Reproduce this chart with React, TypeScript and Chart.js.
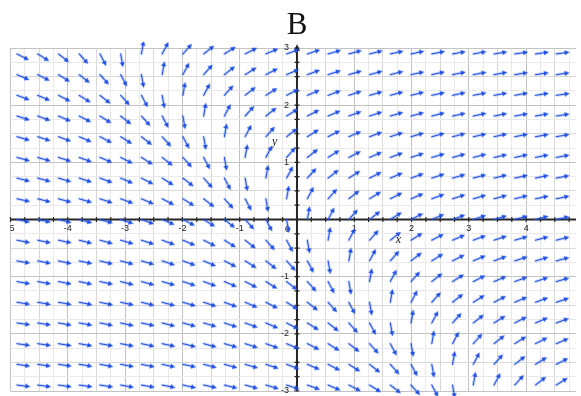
import { useEffect, useRef } from 'react';
import { Chart, registerables } from 'chart.js';

Chart.register(...registerables);

const TITLE = 'B';
const X_AXIS_LABEL = 'x';
const Y_AXIS_LABEL = 'y';

// arrow tail positions (grid of the direction field)
const COLUMNS_X = [
  -4.887, -4.525, -4.163, -3.801, -3.439, -3.077, -2.715, -2.353, -1.991, -1.629,
  -1.267, -0.905, -0.543, -0.181, 0.181, 0.543, 0.905, 1.267, 1.629, 1.991,
  2.353, 2.715, 3.077, 3.439, 3.801, 4.163, 4.525, 4.887,
];
const ROWS_Y = [
  2.896, 2.534, 2.172, 1.81, 1.448, 1.086, 0.724, 0.362, 0,
  -0.362, -0.724, -1.086, -1.448, -1.81, -2.172, -2.534, -2.896,
];

// arrow directions in degrees (counter-clockwise from +x), one row per ROWS_Y entry
const ANGLES: number[][] = [
  [-27, -32, -38, -48, -62, -80, 80, 62, 48, 38, 32, 27, 23, 20, 18, 16, 15, 14, 12, 12, 11, 10, 10, 9, 8, 8, 8, 7],
  [-23, -27, -32, -38, -48, -62, -80, 80, 62, 48, 38, 32, 27, 23, 20, 18, 16, 15, 14, 12, 12, 11, 10, 10, 9, 8, 8, 8],
  [-20, -23, -27, -32, -38, -48, -62, -80, 80, 62, 48, 38, 32, 27, 23, 20, 18, 16, 15, 14, 12, 12, 11, 10, 10, 9, 8, 8],
  [-18, -20, -23, -27, -32, -38, -48, -62, -80, 80, 62, 48, 38, 32, 27, 23, 20, 18, 16, 15, 14, 12, 12, 11, 10, 10, 9, 8],
  [-16, -18, -20, -23, -27, -32, -38, -48, -62, -80, 80, 62, 48, 38, 32, 27, 23, 20, 18, 16, 15, 14, 12, 12, 11, 10, 10, 9],
  [-15, -16, -18, -20, -23, -27, -32, -38, -48, -62, -80, 80, 62, 48, 38, 32, 27, 23, 20, 18, 16, 15, 14, 12, 12, 11, 10, 10],
  [-14, -15, -16, -18, -20, -23, -27, -32, -38, -48, -62, -80, 80, 62, 48, 38, 32, 27, 23, 20, 18, 16, 15, 14, 12, 12, 11, 10],
  [-12, -14, -15, -16, -18, -20, -23, -27, -32, -38, -48, -62, -80, 80, 62, 48, 38, 32, 27, 23, 20, 18, 16, 15, 14, 12, 12, 11],
  [-12, -12, -14, -15, -16, -18, -20, -23, -27, -32, -38, -48, -62, -80, 80, 62, 48, 38, 32, 27, 23, 20, 18, 16, 15, 14, 12, 12],
  [-11, -12, -12, -14, -15, -16, -18, -20, -23, -27, -32, -38, -48, -62, -80, 80, 62, 48, 38, 32, 27, 23, 20, 18, 16, 15, 14, 12],
  [-10, -11, -12, -12, -14, -15, -16, -18, -20, -23, -27, -32, -38, -48, -62, -80, 80, 62, 48, 38, 32, 27, 23, 20, 18, 16, 15, 14],
  [-10, -10, -11, -12, -12, -14, -15, -16, -18, -20, -23, -27, -32, -38, -48, -62, -80, 80, 62, 48, 38, 32, 27, 23, 20, 18, 16, 15],
  [-9, -10, -10, -11, -12, -12, -14, -15, -16, -18, -20, -23, -27, -32, -38, -48, -62, -80, 80, 62, 48, 38, 32, 27, 23, 20, 18, 16],
  [-8, -9, -10, -10, -11, -12, -12, -14, -15, -16, -18, -20, -23, -27, -32, -38, -48, -62, -80, 80, 62, 48, 38, 32, 27, 23, 20, 18],
  [-8, -8, -9, -10, -10, -11, -12, -12, -14, -15, -16, -18, -20, -23, -27, -32, -38, -48, -62, -80, 80, 62, 48, 38, 32, 27, 23, 20],
  [-8, -8, -8, -9, -10, -10, -11, -12, -12, -14, -15, -16, -18, -20, -23, -27, -32, -38, -48, -62, -80, 80, 62, 48, 38, 32, 27, 23],
  [-7, -8, -8, -8, -9, -10, -10, -11, -12, -12, -14, -15, -16, -18, -20, -23, -27, -32, -38, -48, -62, -80, 80, 62, 48, 38, 32, 27],
];

const X_RANGE = [-5, 4.87];
const Y_RANGE = [-3, 3];
const GRID_STEP = 0.25;

const ARROW_COLOR = '#1f4fe4';
const AXIS_COLOR = '#262626';
const LABEL_COLOR = '#222222';

function makeArrow(): HTMLCanvasElement {
  const L = 13.5;
  const W = 31;
  const H = 9;
  const c = document.createElement('canvas');
  c.width = W;
  c.height = H;
  const g = c.getContext('2d')!;
  const cx = W / 2;
  const cy = H / 2;
  g.strokeStyle = ARROW_COLOR;
  g.fillStyle = ARROW_COLOR;
  g.lineWidth = 1.6;
  g.lineCap = 'round';
  g.beginPath();
  g.moveTo(cx, cy);
  g.lineTo(cx + L - 3, cy);
  g.stroke();
  g.beginPath();
  g.moveTo(cx + L, cy);
  g.lineTo(cx + L - 5, cy - 2.4);
  g.lineTo(cx + L - 5, cy + 2.4);
  g.closePath();
  g.fill();
  return c;
}

function gridColor(v: number): string {
  if (Math.abs(v - Math.round(v)) < 1e-6) return '#c3c3c3';
  if (Math.abs(v * 2 - Math.round(v * 2)) < 1e-6) return '#d9d9d9';
  return '#e9e9e9';
}

const isInt = (v: number) => Math.abs(v - Math.round(v)) < 1e-6;

const overlayPlugin = {
  id: 'overlay',
  beforeDatasetsDraw(chart: any) {
    const { ctx, chartArea: a, scales } = chart;
    const xs = scales.x;
    const ys = scales.y;
    const x0 = xs.getPixelForValue(0);
    const y0 = ys.getPixelForValue(0);
    ctx.save();
    ctx.strokeStyle = AXIS_COLOR;
    ctx.lineWidth = 2;
    ctx.beginPath();
    ctx.moveTo(a.left, y0);
    ctx.lineTo(a.right, y0);
    ctx.moveTo(x0, a.bottom);
    ctx.lineTo(x0, a.top);
    ctx.stroke();
    ctx.lineWidth = 1.2;
    ctx.beginPath();
    xs.ticks.forEach((t: any) => {
      const p = xs.getPixelForValue(t.value);
      ctx.moveTo(p, y0 - 2.5);
      ctx.lineTo(p, y0 + 2.5);
    });
    ys.ticks.forEach((t: any) => {
      const p = ys.getPixelForValue(t.value);
      ctx.moveTo(x0 - 2.5, p);
      ctx.lineTo(x0 + 2.5, p);
    });
    ctx.stroke();
    ctx.fillStyle = AXIS_COLOR;
    ctx.beginPath();
    ctx.moveTo(x0, a.top - 4);
    ctx.lineTo(x0 - 3, a.top + 3);
    ctx.lineTo(x0 + 3, a.top + 3);
    ctx.closePath();
    ctx.fill();

    ctx.fillStyle = LABEL_COLOR;
    ctx.font = '9px "Liberation Sans", Arial, sans-serif';
    ctx.textBaseline = 'middle';
    ctx.textAlign = 'right';
    ctx.fillText('0', x0 - 7, y0 + 10);
    ctx.save();
    ctx.beginPath();
    ctx.rect(a.left, a.top, a.right - a.left, a.bottom - a.top + 20);
    ctx.clip();
    ctx.textAlign = 'center';
    ctx.fillText(String(X_RANGE[0]), xs.getPixelForValue(X_RANGE[0]), y0 + 9.5);
    ctx.restore();

    ctx.font = 'italic 12px "Liberation Serif", "DejaVu Serif", serif';
    ctx.textAlign = 'center';
    ctx.fillText(X_AXIS_LABEL, xs.getPixelForValue(1.77), ys.getPixelForValue(-0.35));
    ctx.fillText(Y_AXIS_LABEL, xs.getPixelForValue(-0.39), ys.getPixelForValue(1.36));

    ctx.fillStyle = '#111111';
    ctx.font = '31px "Liberation Serif", "DejaVu Serif", serif';
    ctx.textBaseline = 'alphabetic';
    ctx.fillText(TITLE, x0, 33.5);
    ctx.restore();
  },
};

export default function App() {
  const ref = useRef<HTMLCanvasElement>(null);

  useEffect(() => {
    const points: { x: number; y: number }[] = [];
    const rotations: number[] = [];
    ROWS_Y.forEach((yv, r) => {
      COLUMNS_X.forEach((xv, c) => {
        points.push({ x: xv, y: yv });
        rotations.push(-ANGLES[r][c]);
      });
    });
    const arrow = makeArrow();

    const chart = new Chart(ref.current!, {
      type: 'scatter',
      data: {
        datasets: [
          {
            data: points,
            pointStyle: arrow as any,
            pointRotation: rotations,
            pointRadius: 4,
            pointHoverRadius: 4,
            clip: { left: 0, right: 0, top: 6, bottom: 10 } as any,
          },
        ],
      },
      options: {
        animation: false,
        responsive: false,
        devicePixelRatio: 1,
        events: [],
        layout: { padding: { left: 10.5, right: 0, top: 48, bottom: 2.5 } },
        plugins: {
          legend: { display: false },
          tooltip: { enabled: false },
          title: { display: false },
        },
        scales: {
          x: {
            type: 'linear',
            min: X_RANGE[0],
            max: X_RANGE[1],
            position: { y: 0 } as any,
            border: { display: false },
            grid: {
              color: (c: any) => gridColor(c.tick.value),
              lineWidth: 1,
              drawTicks: false,
            },
            ticks: {
              stepSize: GRID_STEP,
              includeBounds: false,
              autoSkip: false,
              maxRotation: 0,
              minRotation: 0,
              padding: 4,
              color: LABEL_COLOR,
              font: { family: '"Liberation Sans", Arial, sans-serif', size: 9 },
              callback: (v: any) => {
                const n = Number(v);
                return isInt(n) && n !== 0 && n !== X_RANGE[0] ? String(Math.round(n)) : '';
              },
            },
          },
          y: {
            type: 'linear',
            min: Y_RANGE[0],
            max: Y_RANGE[1],
            position: { x: -0.14 } as any,
            border: { display: false },
            grid: {
              color: (c: any) => gridColor(c.tick.value),
              lineWidth: 1,
              drawTicks: false,
            },
            ticks: {
              stepSize: GRID_STEP,
              autoSkip: false,
              padding: 0,
              color: LABEL_COLOR,
              font: { family: '"Liberation Sans", Arial, sans-serif', size: 9, lineHeight: 0.5 },
              callback: (v: any) => {
                const n = Number(v);
                return isInt(n) && n !== 0 ? String(Math.round(n)) : '';
              },
            },
          },
        },
      },
      plugins: [overlayPlugin],
    });
    return () => chart.destroy();
  }, []);

  return (
    <div style={{ position: 'fixed', left: 0, top: 0, width: 581, height: 396, background: '#ffffff' }}>
      <canvas ref={ref} width={581} height={396} style={{ display: 'block', width: 581, height: 396 }} />
    </div>
  );
}
